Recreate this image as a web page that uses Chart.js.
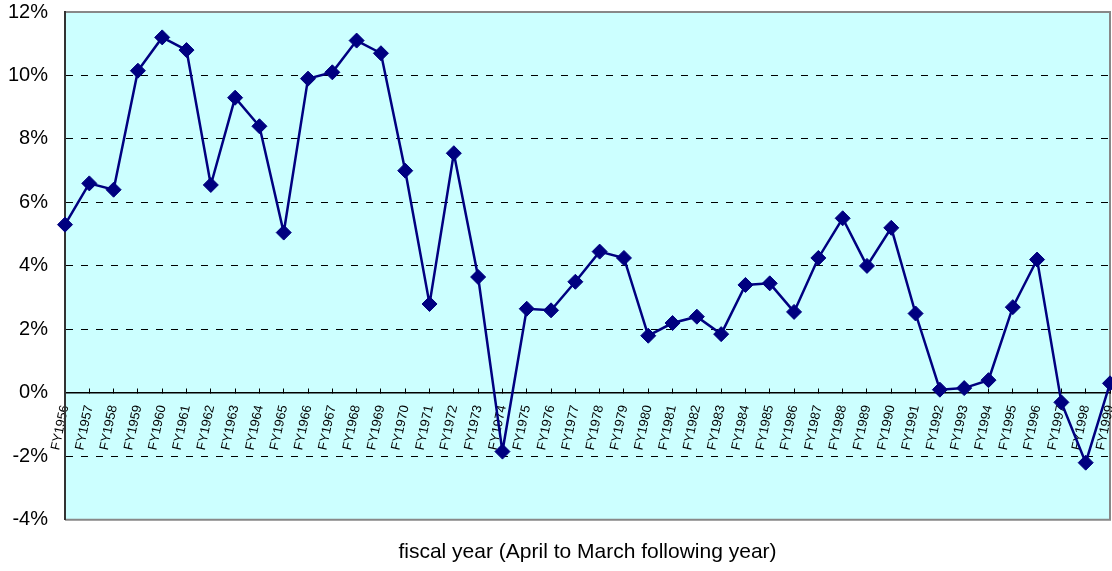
<!DOCTYPE html>
<html>
<head>
<meta charset="utf-8">
<title>Real GDP growth by fiscal year</title>
<script src="https://cdn.jsdelivr.net/npm/chart.js@4"></script>
<style>
    html, body { margin: 0; padding: 0; background: #ffffff; }
    #wrap { width: 1112px; height: 571px; }
</style>
</head>
<body>
<div id="wrap"><canvas id="growthChart" width="1112" height="571"></canvas></div>
<script>
// Fiscal years on the category axis
const fiscalYears = [
    'FY1956', 'FY1957', 'FY1958', 'FY1959', 'FY1960', 'FY1961', 'FY1962', 'FY1963',
    'FY1964', 'FY1965', 'FY1966', 'FY1967', 'FY1968', 'FY1969', 'FY1970', 'FY1971',
    'FY1972', 'FY1973', 'FY1974', 'FY1975', 'FY1976', 'FY1977', 'FY1978', 'FY1979',
    'FY1980', 'FY1981', 'FY1982', 'FY1983', 'FY1984', 'FY1985', 'FY1986', 'FY1987',
    'FY1988', 'FY1989', 'FY1990', 'FY1991', 'FY1992', 'FY1993', 'FY1994', 'FY1995',
    'FY1996', 'FY1997', 'FY1998', 'FY1999'
];

// Growth rate (%)
const growthRates = [
    5.3, 6.6, 6.4, 10.15, 11.2, 10.8, 6.55, 9.3,
    8.4, 5.05, 9.9, 10.1, 11.1, 10.7, 7.0, 2.8,
    7.55, 3.65, -1.85, 2.65, 2.6, 3.5, 4.45, 4.25,
    1.8, 2.2, 2.4, 1.85, 3.4, 3.45, 2.55, 4.25,
    5.5, 4.0, 5.2, 2.5, 0.1, 0.15, 0.4, 2.7,
    4.2, -0.3, -2.2, 0.3
];

// Value axis range and step
const yMin = -4;
const yMax = 12;
const yStep = 2;

const axisTitle = 'fiscal year (April to March following year)';
const fontFamily = 'Liberation Sans, Arial, sans-serif';

// Paints the light cyan plot area and its grey frame
const plotFrame = {
    id: 'plotFrame',
    beforeDraw(chart) {
        const { ctx, chartArea: a } = chart;
        ctx.save();
        ctx.fillStyle = '#ccffff';
        ctx.fillRect(a.left, a.top, a.right - a.left, a.bottom - a.top);
        ctx.strokeStyle = '#888888';
        ctx.lineWidth = 2;
        ctx.beginPath();
        ctx.moveTo(a.left, a.top);
        ctx.lineTo(a.right, a.top);
        ctx.lineTo(a.right, a.bottom);
        ctx.lineTo(a.left, a.bottom);
        ctx.stroke();
        ctx.restore();
    }
};

function generateGrowthChart() {
    const ctx = document.getElementById('growthChart').getContext('2d');

    new Chart(ctx, {
        type: 'line',
        data: {
            labels: fiscalYears,
            datasets: [{
                label: 'growth rate',
                data: growthRates,
                borderColor: '#000080',
                backgroundColor: '#000080',
                borderWidth: 2.5,
                pointStyle: 'rectRot',
                pointRadius: 7.5,
                pointBorderWidth: 1,
                tension: 0,
                clip: false
            }]
        },
        options: {
            responsive: false,
            animation: false,
            layout: {
                autoPadding: false, // end markers may hang over the frame
                padding: { top: 1, right: 2, bottom: 6, left: 8 }
            },
            plugins: {
                legend: { display: false },
                tooltip: { enabled: false }
            },
            scales: {
                x: {
                    type: 'category',
                    position: { y: 0 }, // axis runs along the 0% line
                    offset: false,
                    grid: {
                        drawOnChartArea: false,
                        drawTicks: true,
                        tickLength: -5,
                        tickColor: '#000000'
                    },
                    border: { color: '#000000', width: 1.5 },
                    ticks: {
                        autoSkip: false,
                        minRotation: 78,
                        maxRotation: 78,
                        padding: 16,
                        color: '#000000',
                        font: { family: fontFamily, size: 13 }
                    },
                    // labels sit inside the plot, so they should not push the layout
                    afterFit: function (scale) {
                        scale.paddingLeft = 0;
                        scale.paddingRight = 0;
                        scale.paddingTop = 0;
                        scale.paddingBottom = 0;
                    }
                },
                x2: {
                    type: 'category',
                    axis: 'x',
                    position: 'bottom',
                    grid: { display: false, drawTicks: false },
                    border: { display: false },
                    ticks: { display: false },
                    title: {
                        display: true,
                        text: axisTitle,
                        color: '#000000',
                        padding: { top: 20, bottom: 0 },
                        font: { family: fontFamily, size: 21 }
                    }
                },
                y: {
                    min: yMin,
                    max: yMax,
                    grid: {
                        drawTicks: false,
                        lineWidth: 1,
                        color: function (c) {
                            const v = c.tick ? c.tick.value : null;
                            return (v === yMin || v === yMax || v === 0) ? 'rgba(0,0,0,0)' : '#000000';
                        }
                    },
                    border: { color: '#333333', width: 2, dash: [7, 8] },
                    ticks: {
                        stepSize: yStep,
                        padding: 17,
                        color: '#000000',
                        font: { family: fontFamily, size: 20 },
                        callback: function (value) {
                            return value + '%';
                        }
                    },
                    // fixed axis width, and only half a label of overhang above the top
                    afterFit: function (scale) {
                        scale.width = 57;
                        scale.paddingTop = 12;
                        scale.paddingBottom = 12;
                    }
                }
            }
        },
        plugins: [plotFrame]
    });
}

document.addEventListener('DOMContentLoaded', function () {
    generateGrowthChart();
});
</script>
</body>
</html>
